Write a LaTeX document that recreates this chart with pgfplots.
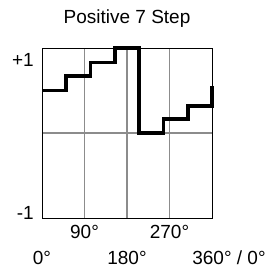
\documentclass[border=0pt]{standalone}
\usepackage{fontspec}
\setmainfont{Liberation Sans}
\usepackage{pgfplots}
\pgfplotsset{compat=1.18}
\definecolor{gridgray}{RGB}{140,140,140}
\newcommand{\lblfont}{\fontsize{19}{22}\selectfont}
\begin{document}
\begin{tikzpicture}
\path[use as bounding box] (-42pt,-58pt) rectangle (237pt,218pt);
\begin{axis}[
  at={(0pt,0pt)}, anchor=south west,
  scale only axis,
  width=170pt, height=170pt,
  xmin=0, xmax=360, ymin=-1, ymax=1,
  clip=false,
  axis line style={black, line width=0.8pt},
  xtick={90,180,270}, xticklabels={90°,,270°},
  ytick={0}, yticklabels={},
  major tick length=0pt,
  grid=major,
  major grid style={gridgray, line width=1.5pt},
  xticklabel style={font=\lblfont, anchor=base, inner sep=0pt, yshift=-20pt},
  extra x ticks={0,180,360},
  extra x tick labels={0°,180°,360°\rlap{ / 0°}},
  extra x tick style={grid=none, major tick length=0pt,
     xticklabel style={yshift=-27pt}},
  extra y ticks={-1,1},
  extra y tick labels={\raisebox{5pt}[\height][\depth]{-1},\raisebox{-12pt}[\height][\depth]{+1}},
  extra y tick style={grid=none, major tick length=0pt,
     yticklabel style={font=\lblfont, anchor=east, inner sep=0pt, xshift=-8pt}},
  title={Positive 7 Step},
  title style={font=\lblfont, at={(0.5,1)}, anchor=base, inner sep=0pt, yshift=18.7pt},
]
\addplot[black, line width=3.7pt, const plot, line join=miter] coordinates {
  (0,0.5) (51.43,0.67) (102.86,0.83) (154.29,1) (205.71,0) (257.14,0.165) (308.57,0.32) (360,0.55)
};
\end{axis}
\end{tikzpicture}
\end{document}
